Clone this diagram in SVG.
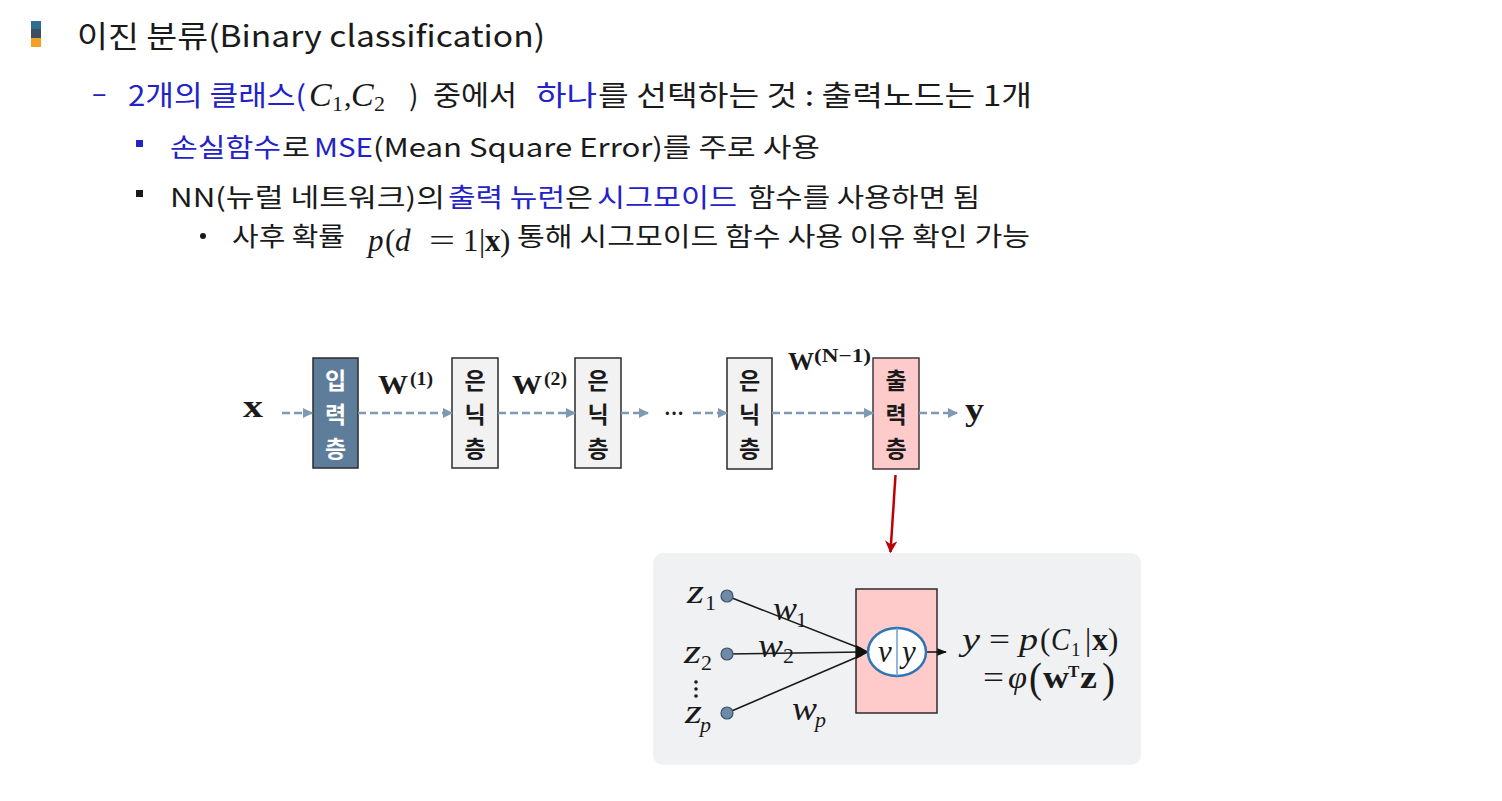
<svg xmlns="http://www.w3.org/2000/svg" width="1502" height="801" viewBox="0 0 1502 801">
<style>
.k{font-family:"Noto Sans CJK KR","Noto Sans",sans-serif;fill:#1a1a1a}
.b{fill:#2222c8}
.m{font-family:"Liberation Serif","DejaVu Serif",serif;font-style:italic;fill:#1a1a1a}
.mb{font-family:"Liberation Serif","DejaVu Serif",serif;font-weight:bold;fill:#1a1a1a}
.mr{font-family:"Liberation Serif","DejaVu Serif",serif;fill:#1a1a1a}
.vk{font-family:"Noto Sans CJK KR",sans-serif;font-size:23px;font-weight:bold;text-anchor:middle}
.dash{stroke:#7d9ab2;stroke-width:2.6;stroke-dasharray:8 4;fill:none}
.thin{stroke:#1a1a1a;stroke-width:1.6;fill:none}
</style>
<defs>
<marker id="ah" viewBox="0 0 10 10" refX="9" refY="5" markerWidth="4" markerHeight="4.4" orient="auto" markerUnits="strokeWidth">
<path d="M0,0 L10,5 L0,10 z" fill="#7d9ab2"/>
</marker>
<marker id="ahr" viewBox="0 0 10 10" refX="9" refY="5" markerWidth="5" markerHeight="5" orient="auto" markerUnits="strokeWidth">
<path d="M0,0 L10,5 L0,10 L3,5 z" fill="#c00000"/>
</marker>
<marker id="ahk" viewBox="0 0 10 10" refX="9" refY="5" markerWidth="6" markerHeight="6" orient="auto" markerUnits="strokeWidth">
<path d="M0,1 L10,5 L0,9 z" fill="#111"/>
</marker>
</defs>
<rect width="1502" height="801" fill="#ffffff"/>

<g id="text">
<rect x="31" y="21" width="10" height="8" fill="#2e6e93"/>
<rect x="31" y="29" width="10" height="9" fill="#3b4e62"/>
<rect x="31" y="38" width="10" height="9" fill="#f4a024"/>
<text class="k" x="77" y="47" font-size="30" textLength="468" lengthAdjust="spacingAndGlyphs">이진 분류(Binary classification)</text>

<text class="k b" x="92" y="103" font-size="27">–</text>
<text class="k b" x="128" y="106" font-size="28" textLength="178" lengthAdjust="spacingAndGlyphs">2개의 클래스(</text>
<text class="m b" x="309" y="106" font-size="34">C</text>
<text class="mr b" x="332" y="111" font-size="22">1</text>
<text class="mr b" x="344" y="106" font-size="30">,</text>
<text class="m b" x="351" y="106" font-size="34">C</text>
<text class="mr b" x="374" y="111" font-size="22">2</text>
<text class="k" x="409" y="106" font-size="28">)</text>
<text class="k" x="433" y="106" font-size="28" textLength="84" lengthAdjust="spacingAndGlyphs">중에서</text>
<text class="k b" x="536" y="106" font-size="28" textLength="61" lengthAdjust="spacingAndGlyphs">하나</text>
<text class="k" x="598" y="106" font-size="28" textLength="434" lengthAdjust="spacingAndGlyphs">를 선택하는 것 : 출력노드는 1개</text>

<rect x="136" y="140" width="7" height="7" fill="#2222c8"/>
<text class="k b" x="170" y="157" font-size="26" textLength="111" lengthAdjust="spacingAndGlyphs">손실함수</text>
<text class="k" x="282" y="157" font-size="26" textLength="28" lengthAdjust="spacingAndGlyphs">로</text>
<text class="k b" x="314" y="157" font-size="26" textLength="59" lengthAdjust="spacingAndGlyphs">MSE</text>
<text class="k" x="373" y="157" font-size="26" textLength="447" lengthAdjust="spacingAndGlyphs">(Mean Square Error)를 주로 사용</text>

<rect x="136" y="190" width="7" height="7" fill="#1a1a1a"/>
<text class="k" x="170" y="207" font-size="26" textLength="275" lengthAdjust="spacingAndGlyphs">NN(뉴럴 네트워크)의</text>
<text class="k b" x="448" y="207" font-size="26" textLength="117" lengthAdjust="spacingAndGlyphs">출력 뉴런</text>
<text class="k" x="565" y="207" font-size="26" textLength="28" lengthAdjust="spacingAndGlyphs">은</text>
<text class="k b" x="597" y="207" font-size="26" textLength="140" lengthAdjust="spacingAndGlyphs">시그모이드</text>
<text class="k" x="748" y="207" font-size="26" textLength="232" lengthAdjust="spacingAndGlyphs">함수를 사용하면 됨</text>

<circle cx="203" cy="236" r="3" fill="#1a1a1a"/>
<text class="k" x="232" y="246" font-size="26" textLength="113" lengthAdjust="spacingAndGlyphs">사후 확률</text>
<text class="m" x="368" y="251" font-size="31">p</text>
<text class="mr" x="385" y="251" font-size="31">(</text>
<text class="m" x="395" y="251" font-size="31">d</text>
<text class="mr" x="429" y="251" font-size="31" textLength="26" lengthAdjust="spacingAndGlyphs">=</text>
<text class="mr" x="463" y="251" font-size="31">1</text>
<text class="mr" x="479" y="251" font-size="31">|</text>
<text class="mb" x="485" y="251" font-size="31">x</text>
<text class="mr" x="500" y="251" font-size="31">)</text>
<text class="k" x="517" y="246" font-size="26" textLength="513" lengthAdjust="spacingAndGlyphs">통해 시그모이드 함수 사용 이유 확인 가능</text>
</g>

<g id="labels">
<text class="mb" x="243" y="417" font-size="31" textLength="20" lengthAdjust="spacingAndGlyphs">x</text>
<text class="mb" x="378" y="394" font-size="27" textLength="30" lengthAdjust="spacingAndGlyphs">W</text>
<text class="mb" x="410" y="385" font-size="19" textLength="23" lengthAdjust="spacingAndGlyphs">(1)</text>
<text class="mb" x="512" y="394" font-size="27" textLength="30" lengthAdjust="spacingAndGlyphs">W</text>
<text class="mb" x="544" y="385" font-size="19" textLength="23" lengthAdjust="spacingAndGlyphs">(2)</text>
<text class="mb" x="664" y="420" font-size="20">···</text>
<text class="mb" x="788" y="370" font-size="25" textLength="26" lengthAdjust="spacingAndGlyphs">W</text>
<text class="mb" x="814" y="362" font-size="19" textLength="57" lengthAdjust="spacingAndGlyphs">(N−1)</text>
<text class="mb" x="965" y="420" font-size="32" textLength="19" lengthAdjust="spacingAndGlyphs">y</text>
</g>

<g id="input-layer">
<rect x="313" y="358" width="45" height="110" fill="#5d7d9a" stroke="#2b2b2b" stroke-width="1.5"/>
<text class="vk" fill="#ffffff"><tspan x="335.5" y="389">입</tspan><tspan x="335.5" y="423">력</tspan><tspan x="335.5" y="457">층</tspan></text>
</g>
<g id="hidden-layer-1">
<rect x="452" y="358" width="46" height="110" fill="#f2f2f2" stroke="#2b2b2b" stroke-width="1.5"/>
<text class="vk" fill="#1a1a1a"><tspan x="475" y="389">은</tspan><tspan x="475" y="423">닉</tspan><tspan x="475" y="457">층</tspan></text>
</g>
<g id="hidden-layer-2">
<rect x="575" y="358" width="46" height="110" fill="#f2f2f2" stroke="#2b2b2b" stroke-width="1.5"/>
<text class="vk" fill="#1a1a1a"><tspan x="598" y="389">은</tspan><tspan x="598" y="423">닉</tspan><tspan x="598" y="457">층</tspan></text>
</g>
<g id="hidden-layer-3">
<rect x="727" y="358" width="45" height="111" fill="#f2f2f2" stroke="#2b2b2b" stroke-width="1.5"/>
<text class="vk" fill="#1a1a1a"><tspan x="749.5" y="389">은</tspan><tspan x="749.5" y="423">닉</tspan><tspan x="749.5" y="457">층</tspan></text>
</g>
<g id="output-layer">
<rect x="873" y="358" width="46" height="111" fill="#ffcaca" stroke="#3a3a3a" stroke-width="1.5"/>
<text class="vk" fill="#1a1a1a"><tspan x="896" y="389">출</tspan><tspan x="896" y="423">력</tspan><tspan x="896" y="457">층</tspan></text>
</g>

<g id="neuron-panel">
<rect x="653" y="553" width="488" height="212" rx="10" fill="#f0f1f3"/>
<rect x="856" y="589" width="81" height="124" fill="#ffcaca" stroke="#2b2b2b" stroke-width="1.5"/>
</g>

<g id="connectors">
<line class="dash" x1="282" y1="413" x2="312" y2="413" marker-end="url(#ah)"/>
<line class="dash" x1="358" y1="413" x2="452" y2="413" marker-end="url(#ah)"/>
<line class="dash" x1="498" y1="413" x2="575" y2="413" marker-end="url(#ah)"/>
<line class="dash" x1="621" y1="413" x2="648" y2="413" marker-end="url(#ah)"/>
<line class="dash" x1="693" y1="413" x2="727" y2="413" marker-end="url(#ah)"/>
<line class="dash" x1="772" y1="413" x2="873" y2="413" marker-end="url(#ah)"/>
<line class="dash" x1="919" y1="413" x2="957" y2="413" marker-end="url(#ah)"/>
<line x1="895.5" y1="475" x2="890.5" y2="552" stroke="#c00000" stroke-width="2.5" marker-end="url(#ahr)"/>
<line class="thin" x1="727" y1="596" x2="862" y2="649"/>
<line class="thin" x1="727" y1="654" x2="862" y2="652"/>
<line class="thin" x1="727" y1="713" x2="862" y2="655"/>
<path d="M856,645 L869,652 L856,659 z" fill="#111"/>
<line class="thin" x1="926" y1="652" x2="946" y2="652" stroke-width="1.3" marker-end="url(#ahk)"/>
</g>

<g id="neuron">
<ellipse cx="897" cy="652" rx="29" ry="24" fill="#ffffff" stroke="#2e75b6" stroke-width="2.5"/>
<line x1="897" y1="628" x2="897" y2="676" stroke="#6fa0d0" stroke-width="1.5"/>
<text class="m" x="878" y="662" font-size="31">v</text>
<text class="m" x="902" y="662" font-size="31">y</text>
</g>
<g id="inputs">
<circle cx="727" cy="596" r="6" fill="#6d8aa6" stroke="#3d5368" stroke-width="1.2"/>
<circle cx="727" cy="654" r="6" fill="#6d8aa6" stroke="#3d5368" stroke-width="1.2"/>
<circle cx="727" cy="713" r="6" fill="#6d8aa6" stroke="#3d5368" stroke-width="1.2"/>
<text class="m" x="687" y="603" font-size="34" textLength="17" lengthAdjust="spacingAndGlyphs">z</text>
<text class="mr" x="705" y="610" font-size="22">1</text>
<text class="m" x="684" y="663" font-size="34" textLength="17" lengthAdjust="spacingAndGlyphs">z</text>
<text class="mr" x="701" y="670" font-size="22">2</text>
<circle cx="696" cy="682" r="1.8" fill="#1a1a1a"/>
<circle cx="696" cy="689" r="1.8" fill="#1a1a1a"/>
<circle cx="696" cy="696" r="1.8" fill="#1a1a1a"/>
<text class="m" x="685" y="723" font-size="34" textLength="17" lengthAdjust="spacingAndGlyphs">z</text>
<text class="m" x="700" y="732" font-size="22">p</text>
<text class="m" x="773" y="620" font-size="34" textLength="24" lengthAdjust="spacingAndGlyphs">w</text>
<text class="mr" x="796" y="627" font-size="22">1</text>
<text class="m" x="758" y="657" font-size="34" textLength="25" lengthAdjust="spacingAndGlyphs">w</text>
<text class="mr" x="783" y="663" font-size="22">2</text>
<text class="m" x="792" y="720" font-size="34" textLength="25" lengthAdjust="spacingAndGlyphs">w</text>
<text class="m" x="815" y="727" font-size="22">p</text>
</g>
<g id="equation">
<text class="m" x="962" y="650" font-size="31" textLength="18" lengthAdjust="spacingAndGlyphs">y</text>
<text class="mr" x="989" y="650" font-size="31" textLength="21" lengthAdjust="spacingAndGlyphs">=</text>
<text class="m" x="1019" y="650" font-size="31" textLength="19" lengthAdjust="spacingAndGlyphs">p</text>
<text class="mr" x="1040" y="650" font-size="31">(</text>
<text class="m" x="1051" y="650" font-size="31" textLength="19" lengthAdjust="spacingAndGlyphs">C</text>
<text class="mr" x="1071" y="656" font-size="19">1</text>
<text class="mr" x="1085" y="650" font-size="31">|</text>
<text class="mb" x="1092" y="650" font-size="31" textLength="16" lengthAdjust="spacingAndGlyphs">x</text>
<text class="mr" x="1108" y="650" font-size="31">)</text>
<text class="mr" x="983" y="688" font-size="31" textLength="21" lengthAdjust="spacingAndGlyphs">=</text>
<text class="m" x="1008" y="688" font-size="31" textLength="19" lengthAdjust="spacingAndGlyphs">φ</text>
<text class="mr" x="1029" y="692" font-size="42" textLength="13" lengthAdjust="spacingAndGlyphs">(</text>
<text class="mb" x="1043" y="688" font-size="31" textLength="26" lengthAdjust="spacingAndGlyphs">w</text>
<text class="mb" x="1068" y="677" font-size="17">T</text>
<text class="mb" x="1080" y="688" font-size="31" textLength="17" lengthAdjust="spacingAndGlyphs">z</text>
<text class="mr" x="1102" y="692" font-size="42" textLength="13" lengthAdjust="spacingAndGlyphs">)</text>
</g>
</svg>
